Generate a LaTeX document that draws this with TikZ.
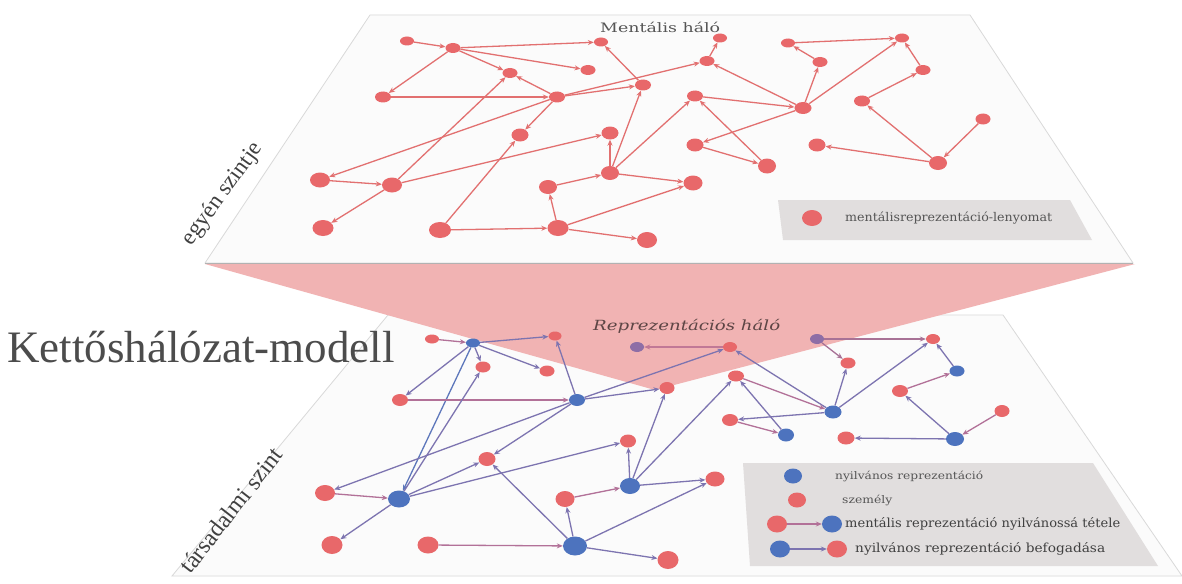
\documentclass[tikz,border=0pt]{standalone}
\usepackage{fontspec}
\setmainfont{Liberation Serif}
\newfontfamily\dvs{DejaVu Serif}
\usetikzlibrary{shapes.geometric,arrows.meta}
\definecolor{planefill}{HTML}{FBFBFB}
\definecolor{planeedge}{HTML}{D9D9D9}
\definecolor{funnel}{HTML}{F1B3B3}
\definecolor{legfill}{HTML}{E1DEDE}
\definecolor{nred}{HTML}{E8686A}
\definecolor{nblue}{HTML}{4D73BE}
\definecolor{npurp}{HTML}{8E6EA6}
\definecolor{tedge}{HTML}{E27070}
\definecolor{crr}{HTML}{D4727E}
\definecolor{crb}{HTML}{B27198}
\definecolor{cbr}{HTML}{7D74B0}
\definecolor{cbb}{HTML}{5D77BB}
\definecolor{crp}{HTML}{C17896}
\definecolor{cpr}{HTML}{A87296}
\definecolor{txtg}{HTML}{555555}
\newcommand\fitw[2]{\resizebox{#1}{\height}{#2}}
\tikzset{
  nd/.style={ellipse,inner sep=0pt,draw=none},
  r/.style={nd,fill=nred},
  b/.style={nd,fill=nblue},
  p/.style={nd,fill=npurp},
  sz/.style 2 args={minimum width=#1pt,minimum height=#2pt},
  arr/.style={line width=1.3pt,-{Stealth[length=6pt,width=5pt]}},
  te/.style={arr,draw=tedge},
  rr/.style={arr,draw=crr},
  rb/.style={arr,draw=crb},
  br/.style={arr,draw=cbr},
  bb/.style={arr,draw=cbb},
  rp/.style={arr,draw=crp},
  pr/.style={arr,draw=cpr},
  plane/.style={fill=planefill,draw=planeedge,line width=0.8pt},
  legbox/.style={fill=legfill,draw=none},
  legtxt/.style={anchor=west,inner sep=0pt,text=txtg},
}
\begin{document}
\begin{tikzpicture}[x=1pt,y=-1pt]
\useasboundingbox[fill=white] (0,0) rectangle (1182,583);

% ---------- bottom plane ----------
\path[plane] (388,315) -- (1003,315) -- (1182,576) -- (172,576) -- cycle;
% funnel
\path[fill=funnel] (205,264) -- (1135,264) -- (655,390) -- cycle;
\node[text=black!45!funnel!70!black,font=\dvs\itshape\fontsize{14}{16}\selectfont,inner sep=0pt,anchor=west] (reptitle) at (593,326) {\fitw{187pt}{Reprezentációs háló}};

% bottom legend box
\path[legbox] (743,463) -- (1093,463) -- (1158,566) -- (750,566) -- cycle;

% bottom nodes
\node[r,sz={14}{9}] (C1) at (432,339) {};
\node[b,sz={14}{9}] (C2) at (473,343) {};
\node[r,sz={13}{9}] (C3) at (555,336) {};
\node[r,sz={15}{11}] (C4) at (483,367) {};
\node[r,sz={15}{11}] (C5) at (547,371) {};
\node[r,sz={16}{12}] (C6) at (400,400) {};
\node[b,sz={16}{12}] (C7) at (577,400) {};
\node[r,sz={15}{12}] (C8) at (667,388) {};
\node[r,sz={16}{13}] (C9) at (628,441) {};
\node[r,sz={17}{14}] (C10) at (487,459) {};
\node[r,sz={20}{16}] (C11) at (325,493) {};
\node[b,sz={22}{17}] (C12) at (399,499) {};
\node[r,sz={19}{16}] (C13) at (565,499) {};
\node[b,sz={20}{16}] (C14) at (630,486) {};
\node[r,sz={21}{18}] (C15) at (332,545) {};
\node[r,sz={21}{17}] (C16) at (428,545) {};
\node[b,sz={24}{19}] (C17) at (575,546) {};
\node[r,sz={21}{18}] (C18) at (668,560) {};
\node[p,sz={14}{10}] (P1) at (637,347) {};
\node[r,sz={14}{10}] (D1) at (730,347) {};
\node[p,sz={14}{10}] (D2) at (817,339) {};
\node[r,sz={14}{10}] (D3) at (933,339) {};
\node[r,sz={15}{11}] (D4) at (848,363) {};
\node[b,sz={15}{11}] (D5) at (957,371) {};
\node[r,sz={16}{11}] (D6) at (736,376) {};
\node[r,sz={16}{12}] (D7) at (900,391) {};
\node[b,sz={17}{13}] (D8) at (833,412) {};
\node[r,sz={15}{12}] (D9) at (1002,411) {};
\node[r,sz={16}{12}] (D10) at (730,420) {};
\node[b,sz={16}{13}] (D11) at (786,435) {};
\node[r,sz={17}{13}] (D12) at (846,438) {};
\node[b,sz={18}{14}] (D13) at (955,439) {};
\node[r,sz={19}{15}] (D14) at (715,479) {};

% bottom edges
\draw[rb] (C1) -- (C2);
\draw[br] (C2) -- (C3);
\draw[br] (C2) -- (C4);
\draw[br] (C2) -- (C5);
\draw[br] (C2) -- (C6);
\draw[bb] (C2) -- (C12);
\draw[rb] (C6) -- (C7);
\draw[br] (C7) -- (C3);
\draw[br] (C7) -- (C8);
\draw[br] (C7) -- (C10);
\draw[br] (C7) -- (C11);
\draw[br] (C7) -- (D1);
\draw[rb] (C11) -- (C12);
\draw[br] (C12) -- (C4);
\draw[br] (C12) -- (C10);
\draw[br] (C12) -- (C9);
\draw[br] (C12) -- (C15);
\draw[rb] (C16) -- (C17);
\draw[br] (C17) -- (C10);
\draw[br] (C17) -- (C13);
\draw[br] (C17) -- (C18);
\draw[br] (C17) -- (D14);
\draw[rb] (C13) -- (C14);
\draw[br] (C14) -- (C9);
\draw[br] (C14) -- (C8);
\draw[br] (C14) -- (D6);
\draw[br] (C14) -- (D14);
\draw[rp] (D1) -- (P1);
\draw[br] (D8) -- (D1);
\draw[rb] (D6) -- (D8);
\draw[br] (D11) -- (D6);
\draw[br] (D8) -- (D10);
\draw[rb] (D10) -- (D11);
\draw[br] (D8) -- (D4);
\draw[pr] (D2) -- (D4);
\draw[pr] (D2) -- (D3);
\draw[br] (D8) -- (D3);
\draw[br] (D5) -- (D3);
\draw[rb] (D7) -- (D5);
\draw[br] (D13) -- (D7);
\draw[rb] (D9) -- (D13);
\draw[br] (D13) -- (D12);

% bottom legend
\node[b,sz={18}{15}] (L1) at (793,476) {};
\node[legtxt,font=\dvs\fontsize{10.5}{12}\selectfont] (L1t) at (835,476) {\fitw{148pt}{nyilvános reprezentáció}};
\node[r,sz={18}{15}] (L2) at (797,500) {};
\node[legtxt,font=\dvs\fontsize{10.5}{12}\selectfont] (L2t) at (842,500) {\fitw{50pt}{személy}};
\node[r,sz={20}{17}] (L3a) at (777,524) {};
\node[b,sz={20}{17}] (L3b) at (832,524) {};
\draw[rb] (L3a) -- (L3b);
\node[legtxt,font=\dvs\fontsize{12.5}{14}\selectfont,text=black!75] (L3t) at (845,524) {\fitw{275pt}{mentális reprezentáció nyilvánossá tétele}};
\node[b,sz={20}{17}] (L4a) at (780,549) {};
\node[r,sz={20}{17}] (L4b) at (837,549) {};
\draw[br] (L4a) -- (L4b);
\node[legtxt,font=\dvs\fontsize{12.5}{14}\selectfont,text=black!75] (L4t) at (855,549) {\fitw{250pt}{nyilvános reprezentáció befogadása}};

% ---------- top plane ----------
\path[plane] (370,15) -- (970,15) -- (1133,263) -- (205,263) -- cycle;
\draw[draw=black!30,line width=0.8pt] (205,263.5) -- (1133,263.5);
\node[legtxt,font=\dvs\fontsize{13}{15}\selectfont] (ttitle) at (600,27) {\fitw{120pt}{Mentális háló}};

% top legend
\path[legbox] (778,200) -- (1070,200) -- (1092,240) -- (783,240) -- cycle;
\node[r,sz={20}{16}] (LT) at (812,218) {};
\node[legtxt,font=\dvs\fontsize{12}{14}\selectfont] (LTt) at (845,218) {\fitw{207pt}{mentálisreprezentáció-lenyomat}};

% top nodes
\node[r,sz={14}{9}] (A1) at (407,41) {};
\node[r,sz={15}{10}] (A2) at (453,48) {};
\node[r,sz={14}{9}] (A3) at (601,42) {};
\node[r,sz={15}{10}] (A4) at (588,70) {};
\node[r,sz={15}{10}] (A5) at (510,73) {};
\node[r,sz={16}{11}] (A6) at (383,97) {};
\node[r,sz={16}{11}] (A7) at (557,97) {};
\node[r,sz={17}{13}] (A8) at (520,135) {};
\node[r,sz={20}{15}] (A9) at (320,180) {};
\node[r,sz={20}{15}] (A10) at (392,185) {};
\node[r,sz={21}{16}] (A11) at (323,228) {};
\node[r,sz={22}{16}] (A12) at (440,230) {};
\node[r,sz={18}{14}] (A13) at (548,187) {};
\node[r,sz={21}{16}] (A14) at (558,228) {};
\node[r,sz={14}{9}] (B2) at (720,38) {};
\node[r,sz={15}{10}] (B3) at (707,61) {};
\node[r,sz={16}{11}] (B5) at (643,85) {};
\node[r,sz={16}{11}] (B6) at (695,96) {};
\node[r,sz={17}{12}] (B7) at (803,108) {};
\node[r,sz={14}{9}] (B8) at (788,43) {};
\node[r,sz={15}{10}] (B9) at (820,62) {};
\node[r,sz={14}{9}] (B10) at (902,38) {};
\node[r,sz={15}{10}] (B11) at (923,70) {};
\node[r,sz={16}{11}] (B12) at (862,101) {};
\node[r,sz={15}{11}] (B13) at (983,119) {};
\node[r,sz={17}{13}] (B14) at (610,133) {};
\node[r,sz={17}{13}] (B15) at (695,145) {};
\node[r,sz={18}{15}] (B16) at (767,166) {};
\node[r,sz={17}{13}] (B17) at (817,145) {};
\node[r,sz={18}{14}] (B18) at (938,163) {};
\node[r,sz={18}{14}] (B19) at (610,173) {};
\node[r,sz={19}{15}] (B20) at (693,183) {};
\node[r,sz={20}{16}] (B21) at (647,240) {};

% top edges
\draw[te] (A1) -- (A2);
\draw[te] (A2) -- (A3);
\draw[te] (A2) -- (A4);
\draw[te] (A2) -- (A5);
\draw[te] (A2) -- (A6);
\draw[te] (A6) -- (A7);
\draw[te] (A7) -- (A5);
\draw[te] (A7) -- (A8);
\draw[te] (A7) -- (A9);
\draw[te] (A9) -- (A10);
\draw[te] (A10) -- (A5);
\draw[te] (A10) -- (A11);
\draw[te] (A10) -- (B14);
\draw[te] (A12) -- (A8);
\draw[te] (A12) -- (A14);
\draw[te] (A14) -- (A13);
\draw[te] (A13) -- (B19);
\draw[te] (A14) -- (B20);
\draw[te] (A14) -- (B21);
\draw[te] (A7) -- (B3);
\draw[te] (A7) -- (B5);
\draw[te] (B5) -- (A3);
\draw[te] (B3) -- (B2);
\draw[te] (B7) -- (B3);
\draw[te] (B6) -- (B7);
\draw[te] (B19) -- (B6);
\draw[te] (B19) -- (B5);
\draw[te] (B19) -- (B14);
\draw[te] (B19) -- (B20);
\draw[te] (B7) -- (B15);
\draw[te] (B15) -- (B16);
\draw[te] (B16) -- (B6);
\draw[te] (B7) -- (B9);
\draw[te] (B9) -- (B8);
\draw[te] (B8) -- (B10);
\draw[te] (B7) -- (B10);
\draw[te] (B11) -- (B10);
\draw[te] (B12) -- (B11);
\draw[te] (B18) -- (B12);
\draw[te] (B13) -- (B18);
\draw[te] (B18) -- (B17);

% ---------- labels ----------
\node[font=\fontsize{23}{25}\selectfont,text=black!75,rotate=54,inner sep=0pt] (lev1) at (223,194) {egyén szintje};
\node[font=\fontsize{24}{26}\selectfont,text=black!75,rotate=52,inner sep=0pt] (lev2) at (231,510) {társadalmi szint};
\node[font=\fontsize{45}{48}\selectfont,text=black!70,anchor=west,inner sep=0pt] (title) at (7,347) {Kettőshálózat-modell};
\end{tikzpicture}
\end{document}
